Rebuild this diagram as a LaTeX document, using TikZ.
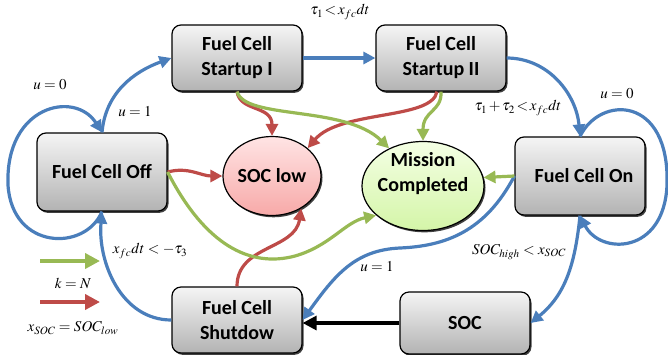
\documentclass[tikz,border=0pt]{standalone}
\usepackage{mathptmx}
\usepackage{fontspec}
\setsansfont{Carlito}
\usetikzlibrary{arrows.meta,shadows,shapes.geometric}
\definecolor{fcblue}{HTML}{4A7EBB}
\definecolor{fcred}{HTML}{BE4B48}
\definecolor{fcgreen}{HTML}{98B954}
\definecolor{lowtop}{HTML}{FFE4E4}
\definecolor{lowbot}{HTML}{F7A9A8}
\definecolor{donetop}{HTML}{F4FFE4}
\definecolor{donebot}{HTML}{D4F5A8}
\tikzset{
	state/.style={draw=black,line width=1.2pt,rounded corners=9pt,top color=black!4,bottom color=black!30,
		minimum width=130pt,minimum height=66pt,align=center,inner sep=2pt,
		font=\sffamily\bfseries\fontsize{20}{25}\selectfont,
		drop shadow={shadow xshift=1.5pt,shadow yshift=-1.8pt,fill=black!75,opacity=1}},
	goal/.style={ellipse,draw=black,line width=1.2pt,align=center,inner xsep=-6pt,inner ysep=0pt,
		font=\sffamily\bfseries\fontsize{20}{25}\selectfont,
		drop shadow={shadow xshift=1.5pt,shadow yshift=-1.8pt,fill=black!75,opacity=1}},
	goaltext/.style={align=center,inner sep=0pt,font=\sffamily\bfseries\fontsize{20}{25}\selectfont},
	cond/.style={font=\fontsize{15}{17}\selectfont,inner sep=1pt},
	bluearr/.style={draw=fcblue,line width=3.2pt,-{Triangle[length=12pt,width=12pt]}},
	redarr/.style={draw=fcred,line width=3.2pt,-{Triangle[length=12pt,width=12pt]}},
	greenarr/.style={draw=fcgreen,line width=3.2pt,-{Triangle[length=12pt,width=12pt]}},
	blackarr/.style={draw=black,line width=3.2pt,-{Triangle[length=14pt,width=14pt]}}
}
\begin{document}
\begin{tikzpicture}[x=1pt,y=-1pt]
	\useasboundingbox (0,0) rectangle (668,354);
	\node[state] (su1) at (237,58) {Fuel Cell\\Startup I};
	\node[state] (su2) at (441,58) {Fuel Cell\\Startup II};
	\node[state,minimum height=78pt] (off) at (102,172) {\raisebox{-5pt}{Fuel Cell Off}};
	\node[state,minimum height=78pt] (on) at (580,176) {\raisebox{-5pt}{\hspace{8pt}Fuel Cell On}};
	\node[state] (sd) at (237,320) {Fuel Cell\\Shutdow};
	\node[state,minimum height=62pt] (soc) at (465,323) {SOC};
	\node[goal,minimum width=98pt,minimum height=79pt,top color=lowtop,bottom color=lowbot] (sl) at (272,176) {SOC low};
	\node[goal,minimum width=122pt,minimum height=89pt,top color=donetop,bottom color=donebot] (mc) at (423,186) {};
	\node[goaltext] (mctext) at (423,174) {Mission\\Completed};

	% blue transitions
	\draw[bluearr] (off.north) to[out=85,in=200] (su1.west);
	\draw[bluearr] (off.south) .. controls (85,252) and (12,250) .. (8,185) .. controls (5,105) and (75,90) .. (off.north);
	\draw[bluearr] (su1.east) -- (su2.west);
	\draw[bluearr] (su2.east) to[out=0,in=95] (on.north);
	\draw[bluearr] (on.north) .. controls (600,95) and (670,95) .. (667,185) .. controls (664,255) and (600,255) .. (on.south);
	\draw[bluearr] (on.south) .. controls (575,265) and (565,295) .. (soc.east);
	\draw[bluearr] (on.west) .. controls (485,232) and (445,246) .. (400,248) .. controls (355,250) and (335,275) .. (sd.east);
	\draw[bluearr] (sd.west) to[out=180,in=-95] (off.south);
	\draw[blackarr] (soc.west) -- (sd.east |- soc.west);

	% red and green transitions
	\draw[redarr] (off.east) to[out=15,in=180] (sl.west);
	\draw[redarr] (su1.south) .. controls (240,112) and (272,105) .. (sl.north);
	\draw[redarr] ([xshift=-4pt]su2.south) .. controls (432,120) and (340,110) .. (sl.38);
	\draw[redarr] (sd.north) .. controls (237,245) and (295,250) .. (sl.-48);
	\draw[greenarr] (su1.south) .. controls (245,120) and (345,105) .. (mc.132);
	\draw[greenarr] (su2.south) .. controls (442,112) and (423,110) .. (mc.north);
	\draw[greenarr] (on.west) -- (mc.8);
	\draw[greenarr] (off.east) .. controls (205,245) and (250,268) .. (295,256) .. controls (330,246) and (345,222) .. (mc.-148);

	% conditions
	\node[cond] (t1) at (340,12) {$\tau_1\,{<}\,x_{fc}dt$};
	\node[cond] (t2) at (518,108) {$\tau_1\,{+}\,\tau_2\,{<}\,x_{fc}dt$};
	\node[cond] (t3) at (150,251) {$x_{fc}dt<-\tau_3$};
	\node[cond] (u0a) at (50,85) {$u=0$};
	\node[cond] (u1a) at (135,112) {$u=1$};
	\node[cond] (u0b) at (617,94) {$u=0$};
	\node[cond] (u1b) at (377,267) {$u=1$};
	\node[cond] (sh) at (519,252) {$SOC_{high}<x_{SOC}$};

	% legend
	\coordinate (g0) at (40,261);
	\coordinate (g1) at (100,261);
	\coordinate (r0) at (40,302);
	\coordinate (r1) at (100,302);
	\draw[greenarr,line width=4pt,-{Triangle[length=15pt,width=15pt]}] (g0) -- (g1);
	\draw[redarr,line width=4pt,-{Triangle[length=15pt,width=15pt]}] (r0) -- (r1);
	\node[cond] (kn) at (73,283) {$k=N$};
	\node[cond] (xs) at (73,328) {$x_{SOC}=SOC_{low}$};
\end{tikzpicture}
\end{document}
